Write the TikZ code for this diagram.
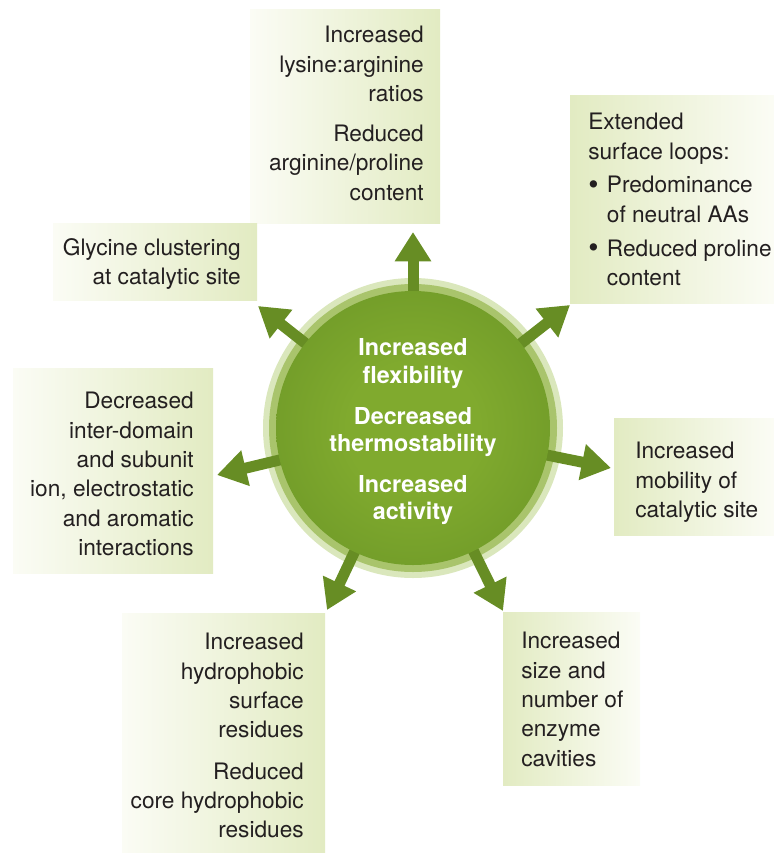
\documentclass[tikz,border=0pt]{standalone}
\usepackage{fontspec}
\setmainfont{TeX Gyre Heros}
\usetikzlibrary{arrows.meta}
\definecolor{boxgreen}{HTML}{E2EBC2}
\definecolor{boxwhite}{HTML}{FBFCF5}
\definecolor{arrowgreen}{HTML}{678D24}
\definecolor{corein}{HTML}{80AA2E}
\definecolor{coreout}{HTML}{5D8822}
\definecolor{ringmid}{HTML}{A9C46C}
\definecolor{ringpale}{HTML}{DAE7BC}
\definecolor{inktext}{HTML}{231F20}
\pgfdeclareradialshading{coreglow}{\pgfpoint{0bp}{0bp}}{color(0bp)=(corein); color(12bp)=(corein); color(50bp)=(coreout)}
\tikzset{
  boxtext/.style={inner sep=0pt, text=inktext, font=\fontsize{17}{22}\selectfont},
  greenleft/.style={left color=boxgreen, right color=boxwhite},
  greenright/.style={left color=boxwhite, right color=boxgreen},
  spoke/.style={line width=8.25pt, draw=arrowgreen, fill=arrowgreen, -{Triangle[width=26pt,length=22pt]}},
}
\newcommand{\bul}{\makebox[14pt][l]{\raisebox{-1.2pt}{\fontsize{22}{22}\selectfont\textbullet}}}
\begin{document}
\begin{tikzpicture}[x=0.75pt,y=-0.75pt]
  \useasboundingbox (0,0) rectangle (774,854);
  % boxes
  \shade[greenright] (250,9) rectangle (440,223);
  \shade[greenleft] (570,95) rectangle (774,303);
  \shade[greenright] (53,223) rectangle (257,300);
  \shade[greenright] (13,368) rectangle (213,573);
  \shade[greenleft] (614,418) rectangle (774,535);
  \shade[greenright] (122,613) rectangle (325,852);
  \shade[greenleft] (503,612) rectangle (640,785);
  % box texts
  \node[boxtext, anchor=north east, align=right] (ratios) at (424,26)
    {Increased\\lysine:arginine\\ratios\\[8pt]Reduced\\arginine/proline\\content};
  \node[boxtext, anchor=north west, align=left] (loops) at (588,113)
    {Extended\\surface loops:\\[3.4pt]\bul Predominance\\\hspace*{14pt}of neutral AAs\\[3.4pt]\bul Reduced proline\\\hspace*{14pt}content};
  \node[boxtext, anchor=north east, align=right] (glycine) at (241,238)
    {Glycine clustering\\at catalytic site};
  \node[boxtext, anchor=north east, align=right] (interact) at (194,392)
    {Decreased\\inter-domain\\and subunit\\ion, electrostatic\\and aromatic\\interactions};
  \node[boxtext, anchor=north west, align=left] (mobility) at (635,442)
    {Increased\\mobility of\\catalytic site};
  \node[boxtext, anchor=north east, align=right] (hydro) at (304,633)
    {Increased\\hydrophobic\\surface\\residues\\[9pt]Reduced\\core hydrophobic\\residues};
  \node[boxtext, anchor=north west, align=left] (cavities) at (521,632)
    {Increased\\size and\\number of\\enzyme\\cavities};
  % rings
  \coordinate (c) at (413,428);
  \fill[ringpale] (c) circle (112.5pt);
  \fill[ringmid] (c) circle (108pt);
  % arrows
  \coordinate (tipN) at (413,232);
  \coordinate (tipNE) at (570,305);
  \coordinate (tipE) at (611,468);
  \coordinate (tipSE) at (503,611);
  \coordinate (tipSW) at (327,610);
  \coordinate (tipW) at (217,475);
  \coordinate (tipNW) at (258,306);
  \foreach \t in {N,NE,E,SE,SW,W,NW}
    \draw[spoke] (c) -- (tip\t);
  % core
  \node[circle, minimum size=205.5pt, inner sep=0pt, shading=coreglow] (core) at (c) {};
  \node[text=white, align=center, inner sep=0pt, font=\bfseries\fontsize{17.5}{20.6}\selectfont] (traits) at (413,432)
    {Increased\\flexibility\\[10pt]Decreased\\thermostability\\[10pt]Increased\\activity};
\end{tikzpicture}
\end{document}
